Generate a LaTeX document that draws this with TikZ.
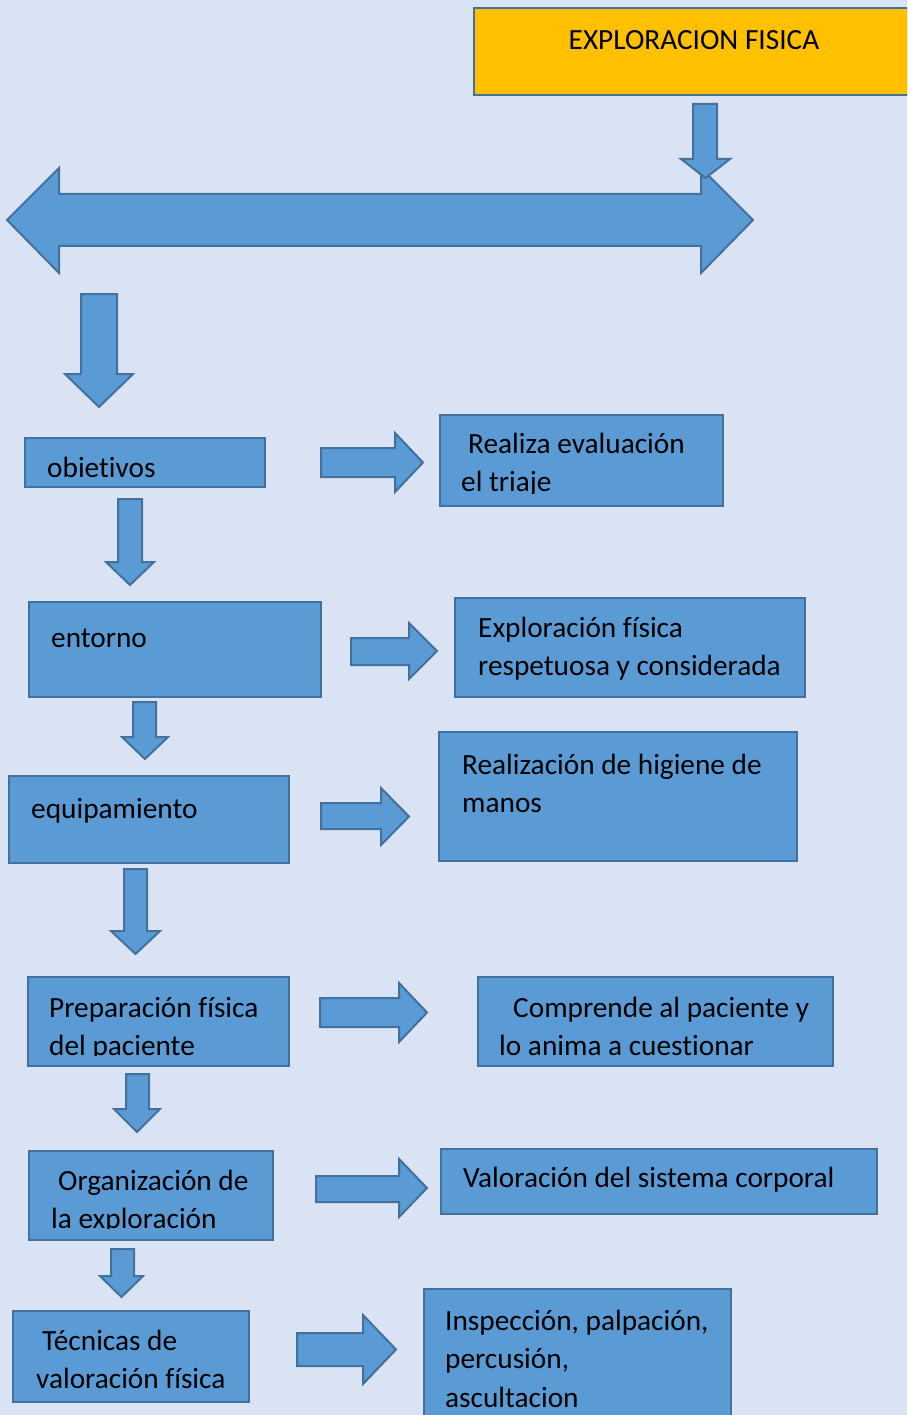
\documentclass[tikz,border=0pt]{standalone}
\usepackage{fontspec}
\setmainfont{Carlito}[Ligatures=NoCommon]

\definecolor{fondo}{HTML}{DAE3F3}
\definecolor{azul}{HTML}{5B9BD5}
\definecolor{borde}{HTML}{41719C}
\definecolor{amarillo}{HTML}{FFC000}

\tikzset{
  caja/.style={draw=borde, fill=azul, line width=2.5pt, inner sep=0pt, outer sep=0pt, anchor=north west},
  titulo/.style={caja, fill=amarillo},
  texto/.style={anchor=base west, inner sep=0pt, text width=440pt, align=flush left, font=\fontsize{29.3}{38.6}\selectfont},
  flecha/.style={draw=borde, fill=azul, line width=2pt, line join=miter}
}

\begin{document}
\begin{tikzpicture}[x=1pt, y=-1pt]
% page and background
\useasboundingbox (0,0) rectangle (907,1415);
\clip (0,0) rectangle (907,1415);
\fill[fondo] (0,0) rectangle (907,1415);

% title
\node[titulo, minimum width=440pt, minimum height=87pt] (titulo) at (474,8) {};
\node[texto, text width=, anchor=base] (titulo-t) at (694,50) {EXPLORACION FISICA};

% the wide double arrow
\draw[flecha] (7,220) -- (59,168) -- (59,194) -- (701,194) -- (701,168) -- (753,220)
  -- (701,273) -- (701,246) -- (59,246) -- (59,273) -- cycle;

% down arrows
\foreach \xa/\xb/\ya/\yb/\xc/\xd/\yc in {693/717/104/159/681/730/178,
    81/117/294/374/65/133/407, 118/142/499/562/106/154/585,
    133/156/702/737/122/168/759, 124/147/869/931/111/160/954,
    126/149/1074/1109/114/160/1132, 111/134/1249/1276/100/143/1297}
  \draw[flecha] (\xa,\ya) -- (\xb,\ya) -- (\xb,\yb) -- (\xd,\yb)
    -- ({(\xc+\xd)/2},\yc) -- (\xc,\yb) -- (\xa,\yb) -- cycle;

% right arrows
\foreach \xa/\xb/\xc/\ya/\yb/\yc/\yd in {321/395/423/448/477/433/492,
    351/409/437/638/665/623/679, 321/381/409/803/829/788/845,
    320/399/427/998/1027/983/1042, 316/399/427/1176/1202/1159/1217,
    297/363/396/1333/1366/1315/1384}
  \draw[flecha] (\xa,\ya) -- (\xb,\ya) -- (\xb,\yc) -- (\xc,{(\yc+\yd)/2})
    -- (\xb,\yd) -- (\xb,\yb) -- (\xa,\yb) -- cycle;

% boxes, text clipped to the inner frame (\c = inset)
\foreach \n/\x/\y/\w/\h/\c/\tx/\ty/\txt in {
    obj/25/438/240/49/0/47/477/{obietivos},
    triaje/440/415/283/91/13/461/453/{\hspace*{7pt}Realiza evaluación\\el triaje},
    entorno/29/602/292/95/12/51/647/{entorno},
    respeto/455/598/350/99/12/478/637/{Exploración física\\respetuosa y considerada},
    equipo/9/776/280/87/12/31/818/{equipamiento},
    higiene/439/732/358/129/12/462/774/{Realización de higiene de\\manos},
    prepara/28/977/261/89/11/49/1017/{Preparación física\\del paciente},
    comprende/478/977/355/89/11/499/1017/{\hspace*{14pt}Comprende al paciente y\\lo anima a cuestionar},
    organiza/29/1151/244/89/12/51/1190/{\hspace*{7pt}Organización de\\la exploración},
    valora/441/1149/436/65/12/463/1187/{Valoración del sistema corporal},
    tecnicas/13/1311/236/91/0/36/1350/{\hspace*{6pt}Técnicas de\\valoración física},
    inspecc/424/1289/307/150/12/445/1330/{Inspección, palpación,\\percusión,\\ascultacion}}
{
  \node[caja, minimum width=\w pt, minimum height=\h pt] (\n) at (\x,\y) {};
  \begin{scope}
    \clip ([yshift=-\c pt]\n.north west) rectangle ([yshift=\c pt]\n.south east);
    \node[texto] (\n-t) at (\tx,\ty) {\txt};
  \end{scope}
}

\end{tikzpicture}
\end{document}
